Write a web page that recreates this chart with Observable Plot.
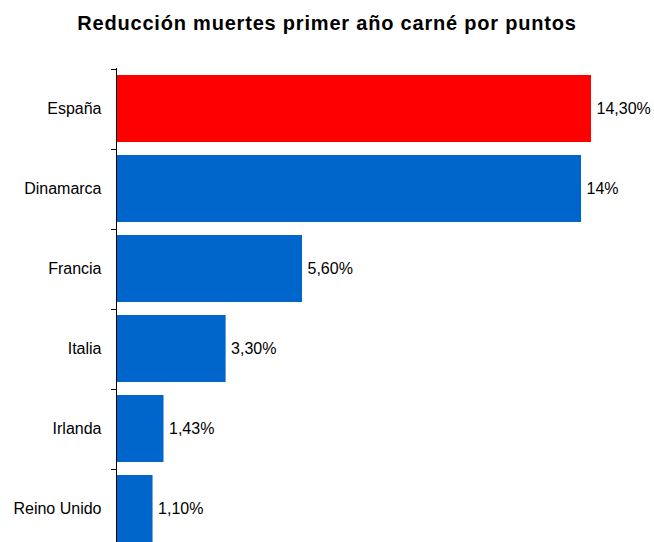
<!DOCTYPE html>
<html><head><meta charset="utf-8">
<script src="https://cdn.jsdelivr.net/npm/d3@7"></script>
<script src="https://cdn.jsdelivr.net/npm/@observablehq/plot@0.6"></script>
<style>
body{margin:0;background:#fff;}
#title{font-family:"Liberation Sans",Arial,sans-serif;font-weight:bold;font-size:20px;line-height:20px;letter-spacing:0.8px;text-align:center;padding-top:13px;height:20px;width:654px;color:#000;}
#chart svg{display:block;}
</style></head><body>
<div id="title">Reducción muertes primer año carné por puntos</div>
<div id="chart"></div>
<script>
const countries = ["España", "Dinamarca", "Francia", "Italia", "Irlanda", "Reino Unido"];
const values = [14.3, 14, 5.6, 3.3, 1.43, 1.1];
const valueLabels = ["14,30%", "14%", "5,60%", "3,30%", "1,43%", "1,10%"];
const barColors = ["#FF0000", "#0066CC", "#0066CC", "#0066CC", "#0066CC", "#0066CC"];

const data = countries.map((c, i) => ({country: c, value: values[i], label: valueLabels[i], color: barColors[i]}));

const chart = Plot.plot({
  width: 654,
  height: 509,
  marginTop: 35,
  marginBottom: 0,
  marginLeft: 116,
  marginRight: 63,
  style: {fontFamily: "'Liberation Sans', Arial, sans-serif", fontSize: "16px", color: "#000", background: "#fff", overflow: "visible"},
  x: {domain: [0, 14.3], range: [116, 591], axis: null},
  y: {domain: countries, range: [35, 516.2], paddingInner: 0.165, paddingOuter: 0.0825, axis: null},
  color: {type: "identity"},
  marks: [
    Plot.barX(data, {x: "value", y: "country", fill: "color"}),
    Plot.text(data, {x: "value", y: "country", text: "label", textAnchor: "start", dx: 5, fill: "#000"}),
    Plot.text(data, {x: 0, y: "country", text: "country", textAnchor: "end", dx: -15, fill: "#000"}),
    Plot.ruleX([0], {stroke: "#000"}),
    (index, scales) => {
      const {x, y} = scales;
      const g = d3.create("svg:g").attr("stroke", "#000");
      const step = y.step ? y.step() : (516.2 - 35) / countries.length;
      const bw = y.bandwidth ? y.bandwidth() : step * 0.835;
      const off = (step - bw) / 2;
      for (const c of countries) {
        const yy = Math.round(y(c) - off) + 0.5;
        g.append("line").attr("x1", x(0) - 5).attr("x2", x(0)).attr("y1", yy).attr("y2", yy);
      }
      return g.node();
    }
  ]
});
document.getElementById("chart").appendChild(chart);
</script>
</body></html>
